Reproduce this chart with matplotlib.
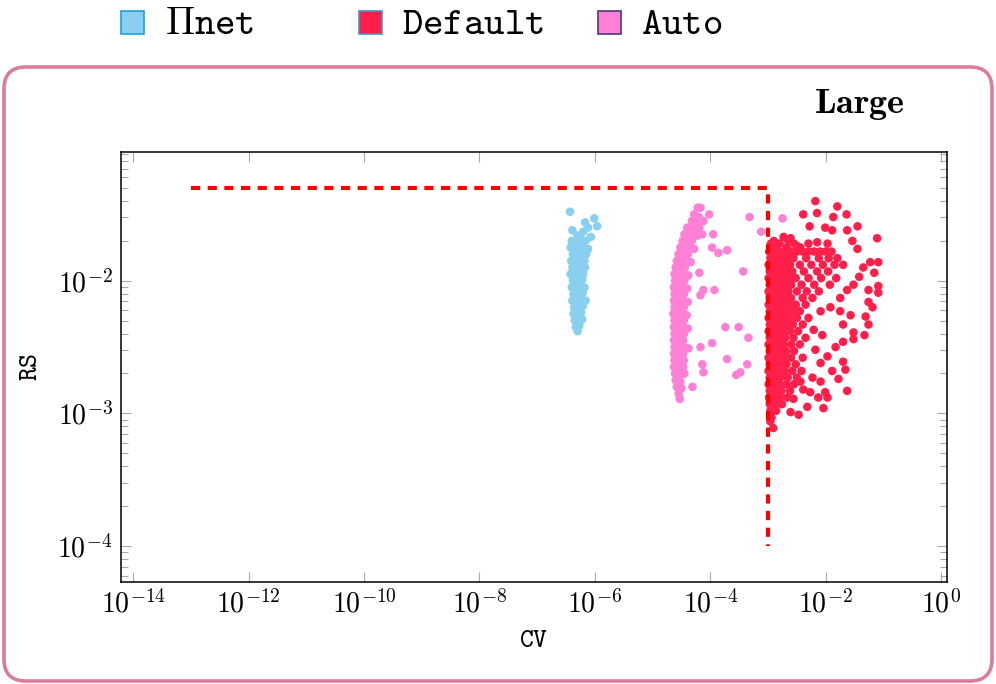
import numpy as np
import matplotlib
matplotlib.use("Agg")
import matplotlib.pyplot as plt
from matplotlib.patches import FancyBboxPatch, Rectangle
from matplotlib.ticker import FixedLocator, FuncFormatter, LogLocator, NullLocator

plt.rcParams["mathtext.fontset"] = "cm"

# Datos (log10 de CV, log10 de RS)
pinet_pts = [
    (-6.43, -1.48), (-6.17, -1.56), (-6.01, -1.53), (-5.96, -1.59), (-6.20, -1.63),
    (-6.39, -1.62), (-6.07, -1.67), (-6.12, -1.60), (-6.30, -1.66),
    (-6.40, -1.70), (-6.32, -1.71), (-6.24, -1.69), (-6.16, -1.70),
    (-6.42, -1.75), (-6.35, -1.76), (-6.27, -1.74), (-6.19, -1.75), (-6.12, -1.76),
    (-6.38, -1.80), (-6.30, -1.81), (-6.22, -1.79), (-6.15, -1.80),
    (-6.41, -1.85), (-6.33, -1.86), (-6.25, -1.84), (-6.18, -1.85),
    (-6.39, -1.90), (-6.31, -1.91), (-6.23, -1.89), (-6.17, -1.90),
    (-6.42, -1.95), (-6.34, -1.96), (-6.26, -1.94), (-6.20, -1.95),
    (-6.38, -2.00), (-6.30, -2.01), (-6.22, -1.99),
    (-6.40, -2.05), (-6.33, -2.06), (-6.25, -2.04), (-6.18, -2.05),
    (-6.37, -2.10), (-6.29, -2.11), (-6.21, -2.09),
    (-6.39, -2.15), (-6.31, -2.16), (-6.23, -2.14), (-6.16, -2.15),
    (-6.36, -2.20), (-6.28, -2.21), (-6.21, -2.19),
    (-6.37, -2.25), (-6.30, -2.26), (-6.24, -2.24),
    (-6.35, -2.30), (-6.28, -2.31), (-6.22, -2.29),
    (-6.33, -2.35), (-6.27, -2.34), (-6.30, -2.38),
]

default_pts = [
    # dispersos
    (-2.18, -1.40), (-1.80, -1.44), (-2.39, -1.50), (-2.15, -1.49), (-1.87, -1.52),
    (-1.64, -1.50), (-2.28, -1.59), (-2.01, -1.60), (-1.89, -1.62), (-1.63, -1.62),
    (-1.45, -1.59), (-1.11, -1.68), (-2.73, -1.67), (-2.61, -1.68), (-2.87, -1.74),
    (-2.68, -1.75), (-2.49, -1.74), (-2.44, -1.75), (-2.15, -1.71), (-1.97, -1.72),
    (-1.54, -1.70), (-1.45, -1.76), (-1.23, -1.86), (-1.09, -1.86), (-1.35, -1.90),
    (-1.16, -1.94), (-1.09, -2.04), (-1.09, -2.09), (-1.26, -2.07), (-1.42, -1.97),
    (-1.52, -2.03), (-1.63, -2.07), (-1.75, -2.13), (-1.92, -2.20), (-2.09, -2.23),
    (-1.26, -2.16), (-1.19, -2.20), (-1.31, -2.27), (-1.26, -2.33), (-1.57, -2.26),
    (-1.75, -2.23), (-1.70, -2.33), (-1.52, -2.39), (-1.33, -2.41), (-1.52, -2.44),
    (-1.70, -2.46), (-1.83, -2.50), (-2.06, -2.41), (-2.21, -2.37), (-2.18, -2.52),
    (-1.97, -2.57), (-2.09, -2.62), (-1.70, -2.61), (-1.66, -2.67), (-1.89, -2.68),
    (-1.78, -2.74), (-1.63, -2.83), (-2.09, -2.76), (-2.23, -2.73), (-2.01, -2.84),
    (-1.97, -2.88), (-2.13, -2.88), (-2.04, -2.96), (-2.32, -2.95), (-2.47, -3.01),
    (-2.61, -2.99), (-2.27, -2.84), (-2.44, -2.76), (-2.39, -2.82), (-2.56, -2.89),
    (-2.91, -3.11), (-2.96, -3.06),
    # columna densa
    (-2.95, -1.72), (-2.80, -1.72), (-2.55, -1.72), (-2.30, -1.72), (-2.90, -1.70), (-2.65, -1.70),
    (-2.98, -1.78), (-2.90, -1.78), (-2.80, -1.78), (-2.70, -1.78), (-2.60, -1.78), (-2.50, -1.78),
    (-2.40, -1.78), (-2.30, -1.78), (-2.20, -1.78), (-2.10, -1.78), (-2.00, -1.78), (-1.90, -1.78),
    (-2.96, -1.83), (-2.86, -1.83), (-2.76, -1.83), (-2.66, -1.83), (-2.56, -1.83), (-2.34, -1.83),
    (-2.12, -1.83), (-1.95, -1.83), (-1.80, -1.83),
    (-2.99, -1.88), (-2.91, -1.88), (-2.82, -1.88), (-2.72, -1.88), (-2.62, -1.88), (-2.45, -1.88),
    (-2.25, -1.88), (-2.05, -1.88), (-1.85, -1.88), (-1.70, -1.88),
    (-2.97, -1.93), (-2.88, -1.93), (-2.79, -1.93), (-2.69, -1.93), (-2.58, -1.93), (-2.38, -1.93),
    (-2.15, -1.93), (-1.96, -1.93),
    (-2.99, -1.98), (-2.91, -1.98), (-2.83, -1.98), (-2.74, -1.98), (-2.64, -1.98), (-2.52, -1.98),
    (-2.30, -1.98), (-2.08, -1.98), (-1.82, -1.98),
    (-2.97, -2.03), (-2.89, -2.03), (-2.80, -2.03), (-2.71, -2.03), (-2.60, -2.03), (-2.42, -2.03),
    (-2.20, -2.03), (-1.93, -2.03),
    (-2.99, -2.08), (-2.91, -2.08), (-2.83, -2.08), (-2.74, -2.08), (-2.65, -2.08), (-2.50, -2.08),
    (-2.33, -2.08), (-2.12, -2.08),
    (-2.97, -2.13), (-2.89, -2.13), (-2.80, -2.13), (-2.71, -2.13), (-2.60, -2.13), (-2.40, -2.13),
    (-2.23, -2.13),
    (-2.99, -2.18), (-2.91, -2.18), (-2.83, -2.18), (-2.74, -2.18), (-2.64, -2.18), (-2.52, -2.18),
    (-2.35, -2.18),
    (-2.97, -2.23), (-2.89, -2.23), (-2.80, -2.23), (-2.70, -2.23), (-2.58, -2.23), (-2.45, -2.23),
    (-2.99, -2.28), (-2.91, -2.28), (-2.83, -2.28), (-2.74, -2.28), (-2.63, -2.28), (-2.50, -2.28),
    (-2.30, -2.28),
    (-2.97, -2.33), (-2.89, -2.33), (-2.80, -2.33), (-2.70, -2.33), (-2.57, -2.33), (-2.40, -2.33),
    (-2.99, -2.38), (-2.91, -2.38), (-2.83, -2.38), (-2.73, -2.38), (-2.62, -2.38), (-2.48, -2.38),
    (-2.97, -2.43), (-2.89, -2.43), (-2.80, -2.43), (-2.70, -2.43), (-2.56, -2.43), (-2.35, -2.43),
    (-2.99, -2.48), (-2.91, -2.48), (-2.83, -2.48), (-2.73, -2.48), (-2.60, -2.48), (-2.45, -2.48),
    (-2.97, -2.53), (-2.89, -2.53), (-2.80, -2.53), (-2.69, -2.53), (-2.55, -2.53),
    (-2.99, -2.58), (-2.91, -2.58), (-2.82, -2.58), (-2.72, -2.58), (-2.60, -2.58), (-2.40, -2.58),
    (-2.97, -2.63), (-2.89, -2.63), (-2.80, -2.63), (-2.68, -2.63), (-2.52, -2.63),
    (-2.99, -2.68), (-2.91, -2.68), (-2.82, -2.68), (-2.71, -2.68), (-2.58, -2.68), (-2.42, -2.68),
    (-2.97, -2.73), (-2.89, -2.73), (-2.79, -2.73), (-2.66, -2.73), (-2.50, -2.73),
    (-2.99, -2.78), (-2.90, -2.78), (-2.80, -2.78), (-2.68, -2.78), (-2.55, -2.78),
    (-2.97, -2.83), (-2.88, -2.83), (-2.77, -2.83), (-2.62, -2.83),
    (-2.98, -2.88), (-2.89, -2.88), (-2.79, -2.88), (-2.67, -2.88),
    (-2.97, -2.93), (-2.87, -2.93), (-2.76, -2.93),
    (-2.96, -2.98), (-2.86, -2.98), (-2.94, -3.03),
]

auto_pts = [
    # dispersos
    (-3.32, -1.52), (-3.12, -1.63), (-3.71, -1.77), (-3.86, -1.79), (-3.97, -1.75),
    (-3.43, -1.93), (-3.93, -2.07), (-4.12, -2.07), (-4.17, -2.11), (-3.74, -2.35),
    (-3.51, -2.35), (-3.34, -2.43), (-3.97, -2.47), (-4.17, -2.50), (-3.71, -2.59),
    (-3.36, -2.63), (-3.48, -2.69), (-3.55, -2.71), (-4.12, -2.69), (-4.14, -2.63),
    (-4.31, -2.80), (-4.19, -1.94), (-4.14, -1.65), (-3.95, -1.65), (-4.02, -1.50),
    (-4.12, -1.55), (-2.75, -1.53),
    # columna
    (-4.22, -1.45), (-4.17, -1.45), (-4.28, -1.50), (-4.20, -1.52), (-4.32, -1.55), (-4.25, -1.57),
    (-4.40, -1.60), (-4.33, -1.60), (-4.26, -1.61), (-4.19, -1.60),
    (-4.45, -1.65), (-4.37, -1.66), (-4.29, -1.65), (-4.22, -1.66),
    (-4.48, -1.70), (-4.40, -1.71), (-4.32, -1.70),
    (-4.52, -1.75), (-4.44, -1.76), (-4.36, -1.75), (-4.28, -1.76),
    (-4.55, -1.80), (-4.47, -1.81), (-4.39, -1.80),
    (-4.58, -1.85), (-4.50, -1.86), (-4.42, -1.85), (-4.34, -1.86),
    (-4.60, -1.90), (-4.52, -1.91), (-4.44, -1.90),
    (-4.62, -1.95), (-4.54, -1.96), (-4.46, -1.95), (-4.38, -1.96),
    (-4.61, -2.00), (-4.53, -2.01), (-4.45, -2.00),
    (-4.63, -2.05), (-4.55, -2.06), (-4.47, -2.05), (-4.40, -2.06),
    (-4.62, -2.10), (-4.54, -2.11), (-4.46, -2.10),
    (-4.63, -2.15), (-4.55, -2.16), (-4.47, -2.15), (-4.39, -2.16),
    (-4.62, -2.20), (-4.54, -2.21), (-4.46, -2.20),
    (-4.64, -2.25), (-4.56, -2.26), (-4.48, -2.25), (-4.41, -2.26),
    (-4.62, -2.30), (-4.54, -2.31), (-4.46, -2.30),
    (-4.63, -2.35), (-4.55, -2.36), (-4.47, -2.35), (-4.39, -2.36),
    (-4.62, -2.40), (-4.54, -2.41), (-4.46, -2.40),
    (-4.63, -2.45), (-4.55, -2.46), (-4.47, -2.45),
    (-4.62, -2.50), (-4.54, -2.51), (-4.46, -2.50), (-4.38, -2.51),
    (-4.63, -2.55), (-4.55, -2.56), (-4.47, -2.55),
    (-4.62, -2.60), (-4.54, -2.61), (-4.46, -2.60),
    (-4.63, -2.65), (-4.55, -2.66), (-4.47, -2.65),
    (-4.61, -2.70), (-4.53, -2.71), (-4.45, -2.70),
    (-4.60, -2.75), (-4.52, -2.76),
    (-4.58, -2.80), (-4.50, -2.81),
    (-4.55, -2.85), (-4.53, -2.89),
]

# Linea de umbral
dash_cv = [1e-13, 1e-3, 1e-3]
dash_rs = [5e-2, 5e-2, 1e-4]

series = [
    (r"$\Pi\mathtt{net}$", pinet_pts, "#89CFF0", "#1E9FE0"),
    (r"$\mathtt{Default}$", default_pts, "#FF1F4B", "#4A8FC0"),
    (r"$\mathtt{Auto}$", auto_pts, "#FF80D5", "#4B3A78"),
]

W, H = 996, 684
fig = plt.figure(figsize=(W / 100, H / 100), dpi=100)

# Marco redondeado
frame = FancyBboxPatch((4 / W, 3 / H), 988 / W, 614 / H,
                       boxstyle="round,pad=0,rounding_size=0.022",
                       transform=fig.transFigure, fill=False,
                       edgecolor="#DB7C9C", linewidth=2.6, mutation_aspect=W / H)
fig.patches.append(frame)

ax = fig.add_axes([121 / W, 1 - 582 / H, 826 / W, 430 / H])

for name, pts, col, ec in series:
    arr = 10 ** np.array(pts)
    ax.scatter(arr[:, 0], arr[:, 1], s=38, color=col, edgecolors="none", zorder=2)

ax.plot(dash_cv, dash_rs, color="red", lw=3, linestyle=(0, (2.2, 1.8)), zorder=3)

ax.set_xscale("log")
ax.set_yscale("log")
ax.set_xlim(10 ** -14.21, 10 ** 0.1)
ax.set_ylim(10 ** -4.27, 10 ** -1.03)

ax.xaxis.set_major_locator(FixedLocator([10.0 ** k for k in range(-14, 1, 2)]))
ax.xaxis.set_minor_locator(NullLocator())
ax.yaxis.set_major_locator(FixedLocator([1e-4, 1e-3, 1e-2]))
ax.yaxis.set_minor_locator(LogLocator(base=10, subs=np.arange(2, 10)))
fmt = FuncFormatter(lambda v, p: r"$10^{%d}$" % int(round(np.log10(v))))
ax.xaxis.set_major_formatter(fmt)
ax.yaxis.set_major_formatter(fmt)

ax.tick_params(which="both", direction="in", top=True, right=True, color="#aaaaaa",
               labelsize=20, pad=6)
ax.tick_params(which="major", length=7, width=0.8)
ax.tick_params(which="minor", length=5, width=0.8)
for sp in ax.spines.values():
    sp.set_linewidth(1.1)

ax.set_xlabel(r"$\mathtt{CV}$", fontsize=19, labelpad=6)
ax.set_ylabel(r"$\mathtt{RS}$", fontsize=19, labelpad=10)

fig.text(905 / W, 1 - 104 / H, r"$\mathbf{Large}$", fontsize=26, ha="right", va="center")

# Leyenda superior
sq_x = [121, 359, 598]
txt_x = [165, 402, 641]
for (name, pts, col, ec), sx, tx in zip(series, sq_x, txt_x):
    fig.patches.append(Rectangle((sx / W, 1 - 34 / H), 23 / W, 23 / H, transform=fig.transFigure,
                                 facecolor=col, edgecolor=ec, linewidth=1.2))
    fig.text(tx / W, 1 - 23 / H, name, fontsize=28, ha="left", va="center")

fig.savefig("out.png", dpi=100)
